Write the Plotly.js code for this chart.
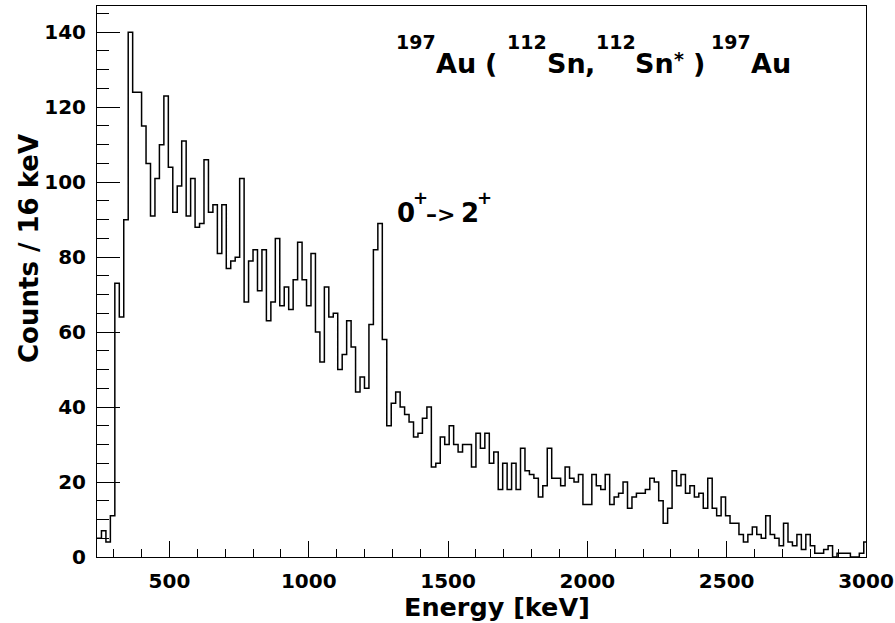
<!DOCTYPE html>
<html>
<head>
<meta charset="utf-8">
<script src="https://cdn.plot.ly/plotly-3.0.1.min.js"></script>
<style>html,body{margin:0;padding:0;background:#fff;}#chart{width:895px;height:623px;}</style>
</head>
<body>
<div id="chart"></div>
<script>
// Histogram definition (16 keV bins starting at 240 keV)
const binStart = 240;
const binWidth = 16;
const counts = [
  5, 7, 4, 11, 73, 64, 90, 140, 124, 124,
  115, 105, 91, 101, 110, 123, 104, 92, 99, 111,
  91, 101, 88, 89, 106, 92, 94, 81, 94, 77,
  79, 80, 101, 68, 79, 82, 71, 82, 63, 68,
  85, 67, 72, 66, 74, 84, 74, 67, 81, 60,
  52, 72, 64, 65, 50, 54, 63, 56, 44, 48,
  45, 62, 82, 89, 58, 35, 41, 44, 40, 38,
  36, 32, 33, 37, 40, 24, 25, 32, 30, 35,
  30, 28, 30, 30, 24, 33, 29, 33, 25, 28,
  18, 25, 18, 25, 18, 29, 23, 22, 21, 16,
  19, 29, 21, 21, 19, 24, 21, 20, 22, 14,
  14, 22, 19, 18, 22, 14, 16, 17, 20, 13,
  16, 17, 17, 18, 21, 20, 15, 9, 13, 23,
  19, 22, 17, 19, 16, 17, 13, 21, 13, 11,
  16, 11, 9, 9, 6, 4, 6, 8, 6, 5,
  11, 6, 5, 3, 9, 4, 3, 6, 2, 6,
  3, 1, 1, 2, 3, 0, 1, 1, 1, 0,
  0, 1, 4
];
const xRange = [240, 3000];
const yRange = [0, 147];
const xTitle = "Energy [keV]";
const yTitle = "Counts / 16 keV";

// step outline
const xs = counts.map((_, i) => binStart + i * binWidth);
xs.push(binStart + counts.length * binWidth);
const ys = counts.slice();
ys.push(counts[counts.length - 1]);

const LEFT = 97, RIGHT = 866, TOP = 6, BOTTOM = 557;
const W = RIGHT - LEFT, H = BOTTOM - TOP;
const FAM = 'DejaVu Sans';

const ctx = document.createElement('canvas').getContext('2d');
function measure(t, size) { ctx.font = 'bold ' + size + 'px "' + FAM + '"'; return ctx.measureText(t).width; }

function ann(text, leftPx, basePx, size) {
  return {
    xref: 'paper', yref: 'paper',
    x: (leftPx - LEFT) / W,
    y: (BOTTOM - (basePx + 0.236 * size)) / H,
    xanchor: 'left', yanchor: 'bottom',
    text: text, showarrow: false, borderpad: 0, borderwidth: 0,
    font: {family: FAM, size: size, color: '#000', weight: 'bold'}
  };
}

const annotations = [];
// Reaction label laid out run by run (TLatex-like superscripts)
const MAIN = 27, SUP = 19, SUPRAISE = 24, STARRAISE = 7, BASE = 73;
const runs = [
  {t: '197', s: SUP, r: SUPRAISE},
  {t: 'Au', s: MAIN, r: 0},
  {gap: 1},
  {t: '(', s: MAIN, r: 0},
  {gap: 1},
  {t: '112', s: SUP, r: SUPRAISE},
  {t: 'Sn', s: MAIN, r: 0},
  {t: ',', s: MAIN, r: 0},
  {t: '112', s: SUP, r: SUPRAISE},
  {t: 'Sn', s: MAIN, r: 0},
  {t: '*', s: SUP, r: STARRAISE},
  {gap: 1},
  {t: ')', s: MAIN, r: 0},
  {gap: 0.6},
  {t: '197', s: SUP, r: SUPRAISE},
  {t: 'Au', s: MAIN, r: 0}
];
let cx = 396;
runs.forEach(run => {
  if (run.gap) { cx += run.gap * measure(' ', MAIN); return; }
  annotations.push(ann(run.t, cx, BASE - run.r, run.s));
  cx += measure(run.t, run.s);
});

// Transition label
annotations.push(ann('0', 397, 222, 26));
annotations.push(ann('+', 413, 204, 18));
annotations.push(ann('\u2013>', 426, 222, 22));
annotations.push(ann('2', 461, 222, 26));
annotations.push(ann('+', 477, 204, 18));

// Axis titles
annotations.push({xref: 'paper', yref: 'paper', x: (497 - LEFT) / W, y: (BOTTOM - 607) / H,
  xanchor: 'center', yanchor: 'middle', showarrow: false, text: xTitle, borderpad: 0,
  font: {family: FAM, size: 25.5, color: '#000', weight: 'bold'}});
annotations.push({xref: 'paper', yref: 'paper', x: (29 - LEFT) / W, y: (BOTTOM - 249) / H,
  xanchor: 'center', yanchor: 'middle', showarrow: false, text: yTitle, textangle: -90, borderpad: 0,
  font: {family: FAM, size: 26, color: '#000', weight: 'bold'}});

const trace = {
  type: 'scatter', mode: 'lines', x: xs, y: ys,
  line: {shape: 'hv', color: '#000', width: 1.5},
  hoverinfo: 'skip'
};

const tickFont = {family: FAM, size: 20, color: '#000', weight: 'bold'};
const layout = {
  width: 895, height: 623,
  margin: {l: LEFT, r: 895 - RIGHT, t: TOP, b: 623 - BOTTOM, pad: 0},
  paper_bgcolor: '#fff', plot_bgcolor: '#fff',
  showlegend: false,
  xaxis: {
    range: xRange, tick0: 0, dtick: 500, ticks: 'inside', ticklen: 16, tickwidth: 1, tickcolor: '#000',
    minor: {ticks: 'inside', dtick: 100, ticklen: 8, tickwidth: 1, tickcolor: '#000', showgrid: false},
    showline: true, linecolor: '#000', linewidth: 1, mirror: true, showgrid: false, zeroline: false,
    tickfont: tickFont, ticklabelstandoff: 6
  },
  yaxis: {
    range: yRange, tick0: 0, dtick: 20, ticks: 'inside', ticklen: 23, tickwidth: 1, tickcolor: '#000',
    minor: {ticks: 'inside', dtick: 5, ticklen: 12, tickwidth: 1, tickcolor: '#000', showgrid: false},
    showline: true, linecolor: '#000', linewidth: 1, mirror: true, showgrid: false, zeroline: false,
    tickfont: tickFont, ticklabelstandoff: 6
  },
  annotations: annotations
};

Plotly.newPlot('chart', [trace], layout, {staticPlot: true, displayModeBar: false});
</script>
</body>
</html>
